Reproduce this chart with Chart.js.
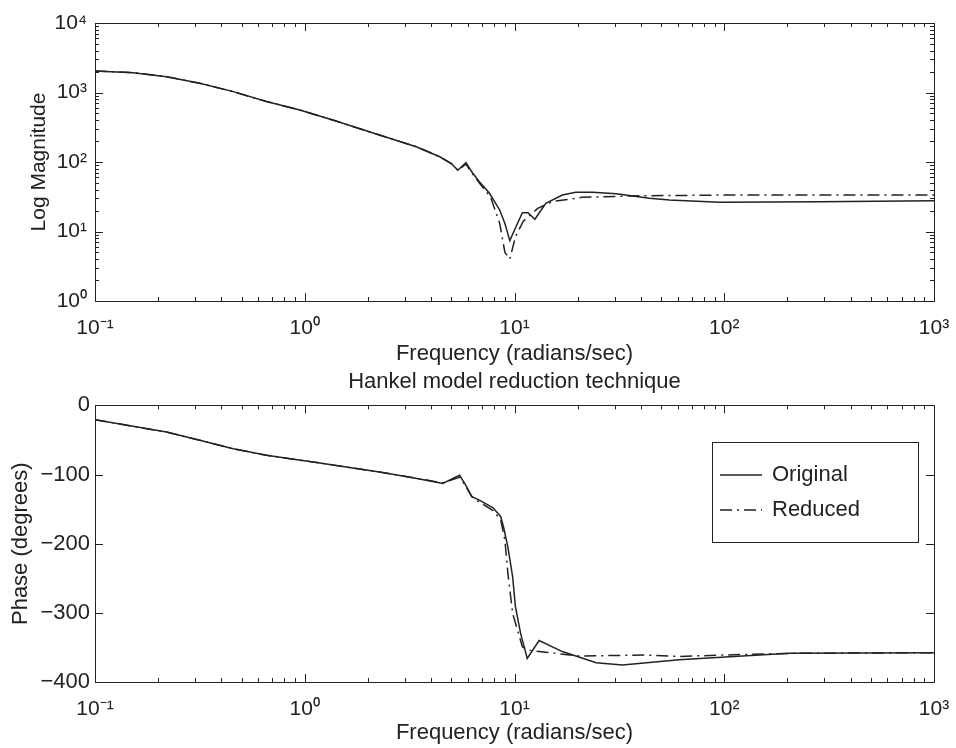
<!DOCTYPE html>
<html><head><meta charset="utf-8">
<script src="https://cdn.jsdelivr.net/npm/chart.js@4.4.0/dist/chart.umd.min.js"></script>
<style>
html,body{margin:0;padding:0;background:#fff;width:956px;height:748px;overflow:hidden;}
.box{position:absolute;left:0;width:956px;}
canvas{display:block;}
</style></head><body>
<div class="box" style="top:0;height:370px"><canvas id="c1" width="956" height="370"></canvas></div>
<div class="box" style="top:365px;height:383px"><canvas id="c2" width="956" height="383"></canvas></div>
<script>
// ---------- data ----------
const seriesNames = ['Original', 'Reduced'];

const magFreqOrig = [0.1, 0.152, 0.219, 0.316, 0.456, 0.657, 0.946, 1.36, 2.27, 3.4, 4.4, 5.0, 5.37, 5.87, 6.3, 6.8, 7.6, 8.5, 9.0, 9.5, 10.2, 10.9, 11.6, 12.5, 14.1, 16.9, 19.6, 23.6, 30.6, 44, 54.7, 94.6, 283, 1000];
const magOrig     = [2040, 1930, 1690, 1355, 1030, 740, 560, 402, 244, 166, 119, 95, 76, 98, 70, 52, 35.5, 20.4, 13, 7.4, 12, 18.6, 18.6, 15, 25.5, 33.5, 36.6, 36.6, 35, 30, 28.4, 26.3, 26.7, 27.7];

const magFreqRed  = [0.1, 0.152, 0.219, 0.316, 0.456, 0.657, 0.946, 1.36, 2.27, 3.4, 4.4, 5.0, 5.37, 5.87, 6.3, 6.8, 7.7, 8.5, 9.0, 9.5, 10.1, 11.0, 12.9, 15.2, 21, 36.5, 100, 1000];
const magRed      = [2040, 1930, 1690, 1355, 1030, 740, 560, 402, 244, 166, 119, 95, 76, 93, 68, 50, 31, 13.1, 5.0, 4.0, 8.4, 14, 21.5, 27, 31, 32.5, 33.5, 33.5];

const phFreqOrig  = [0.1, 0.152, 0.219, 0.316, 0.456, 0.657, 1.18, 2.27, 3.28, 4.55, 5.47, 5.8, 6.26, 6.8, 7.9, 8.6, 8.9, 9.3, 9.8, 10.1, 10.7, 11.5, 13.1, 16.9, 24.5, 32.7, 61, 204, 1000];
const phaseOrig   = [-20.7, -30.3, -38.5, -50.5, -62.6, -72.2, -83.3, -96.3, -104.5, -113, -101, -113, -132, -137, -148, -161, -178, -205, -248, -291, -330, -366, -340, -356, -372, -375.5, -368, -358.6, -357.6];

const phFreqRed   = [0.1, 0.152, 0.219, 0.316, 0.456, 0.657, 1.18, 2.27, 3.28, 4.55, 5.47, 5.8, 6.26, 6.8, 7.9, 8.6, 9.0, 9.3, 9.8, 10.9, 11.6, 14.1, 20.4, 42, 61, 100, 204, 1000];
const phaseRed    = [-20.7, -30.3, -38.5, -50.5, -62.6, -72.2, -83.3, -96.3, -104.5, -112, -104, -115, -132, -140, -152, -166, -195, -243, -301, -349, -354, -357, -362.5, -361, -363, -361, -358.6, -357.6];

const freqRange  = [0.1, 1000];
const magRange   = [1, 10000];
const phaseTicks = [-400, -300, -200, -100, 0];

const labels = {
  freq: 'Frequency (radians/sec)',
  mag: 'Log Magnitude',
  phase: 'Phase (degrees)',
  title: 'Hankel model reduction technique'
};

// ---------- styling ----------
const INK = '#222';
const FONT = '"Liberation Sans", Arial, Helvetica, sans-serif';
const DASHDOT = [12, 5, 2, 5];

const SUP = {'-':'\u207B','0':'\u2070','1':'\u00B9','2':'\u00B2','3':'\u00B3','4':'\u2074','5':'\u2075','6':'\u2076','7':'\u2077','8':'\u2078','9':'\u2079'};
function isPow10(v){ const l = Math.log10(v); return Math.abs(l - Math.round(l)) < 1e-9; }
function powLabel(v){ const e = String(Math.round(Math.log10(v))); return '10' + e.split('').map(c => SUP[c]).join(''); }
function logTicks(lo, hi){
  const a = [], e0 = Math.round(Math.log10(lo)), e1 = Math.round(Math.log10(hi));
  for (let e = e0; e < e1; e++) for (let m = 1; m <= 9; m++) a.push({value: m * Math.pow(10, e)});
  a.push({value: Math.pow(10, e1)});
  return a;
}
function pts(xs, ys){ return xs.map((x, i) => ({x: x, y: ys[i]})); }

const framePlugin = {
  id: 'frameTicks',
  afterDatasetsDraw(chart){
    const {ctx, chartArea: a} = chart;
    const sx = chart.scales.x, sy = chart.scales.y;
    ctx.save();
    ctx.strokeStyle = INK; ctx.lineWidth = 1; ctx.setLineDash([]);
    ctx.strokeRect(Math.round(a.left) + 0.5, Math.round(a.top) + 0.5, Math.round(a.right - a.left), Math.round(a.bottom - a.top));
    ctx.beginPath();
    sx.ticks.forEach(t => {
      const len = isPow10(t.value) ? 8 : 4;
      const p = Math.round(sx.getPixelForValue(t.value)) + 0.5;
      ctx.moveTo(p, a.bottom); ctx.lineTo(p, a.bottom - len);
      ctx.moveTo(p, a.top); ctx.lineTo(p, a.top + len);
    });
    sy.ticks.forEach(t => {
      const len = (sy.type === 'linear' || isPow10(t.value)) ? 8 : 4;
      const p = Math.round(sy.getPixelForValue(t.value)) + 0.5;
      ctx.moveTo(a.left, p); ctx.lineTo(a.left + len, p);
      ctx.moveTo(a.right, p); ctx.lineTo(a.right - len, p);
    });
    ctx.stroke();
    ctx.restore();
  }
};

const legendPlugin = {
  id: 'boxLegend',
  afterDatasetsDraw(chart){
    const {ctx, chartArea: a} = chart;
    const L = Math.round(a.right - 222), T = Math.round(a.top + 37), W = 206, H = 100;
    ctx.save();
    ctx.fillStyle = '#fff'; ctx.fillRect(L, T, W, H);
    ctx.strokeStyle = INK; ctx.lineWidth = 1; ctx.setLineDash([]);
    ctx.strokeRect(L + 0.5, T + 0.5, W, H);
    chart.data.datasets.forEach((ds, i) => {
      const cy = T + 33 + i * 35;
      ctx.setLineDash(ds.borderDash || []);
      ctx.lineWidth = ds.borderWidth; ctx.strokeStyle = ds.borderColor;
      ctx.beginPath(); ctx.moveTo(L + 8, cy); ctx.lineTo(L + 50, cy); ctx.stroke();
      ctx.setLineDash([]);
      ctx.fillStyle = INK; ctx.font = '22px ' + FONT; ctx.textBaseline = 'middle'; ctx.textAlign = 'left';
      ctx.fillText(ds.label, L + 60, cy);
    });
    ctx.restore();
  }
};

function lineDs(label, data, dashed){
  return {label: label, data: data, borderColor: INK, borderWidth: 1.5, borderDash: dashed ? DASHDOT : [],
          pointRadius: 0, tension: 0, fill: false};
}

function xScale(height, titlePad){
  return {
    type: 'logarithmic', min: freqRange[0], max: freqRange[1],
    afterBuildTicks: ax => { ax.ticks = logTicks(freqRange[0], freqRange[1]); },
    afterFit: ax => { ax.height = height; ax.paddingLeft = 0; ax.paddingRight = 0; },
    grid: {display: false, drawTicks: false}, border: {display: false},
    ticks: {autoSkip: false, maxRotation: 0, minRotation: 0, padding: 15, color: INK,
            font: {family: FONT, size: 21}, callback: v => isPow10(v) ? powLabel(v) : ''},
    title: {display: true, text: labels.freq, color: INK, font: {family: FONT, size: 22},
            padding: {top: 0, bottom: titlePad}}
  };
}

Chart.defaults.font.family = FONT;

new Chart(document.getElementById('c1'), {
  type: 'line',
  data: {datasets: [lineDs(seriesNames[0], pts(magFreqOrig, magOrig), false),
                    lineDs(seriesNames[1], pts(magFreqRed, magRed), true)]},
  options: {
    responsive: false, animation: false, devicePixelRatio: 1,
    layout: {padding: {top: 23, right: 22, left: 0, bottom: 0}},
    plugins: {legend: {display: false}, tooltip: {enabled: false}, title: {display: false}},
    scales: {
      x: xScale(69, 3),
      y: {
        type: 'logarithmic', min: magRange[0], max: magRange[1],
        afterBuildTicks: ax => { ax.ticks = logTicks(magRange[0], magRange[1]); },
        afterFit: ax => { ax.width = 95; ax.paddingTop = 0; ax.paddingBottom = 0; },
        grid: {display: false, drawTicks: false}, border: {display: false},
        ticks: {autoSkip: false, padding: 8, color: INK, font: {family: FONT, size: 21},
                callback: v => isPow10(v) ? powLabel(v) : ''},
        title: {display: true, text: labels.mag, color: INK, font: {family: FONT, size: 21},
                padding: {top: 27, bottom: 0}}
      }
    }
  },
  plugins: [framePlugin]
});

new Chart(document.getElementById('c2'), {
  type: 'line',
  data: {datasets: [lineDs(seriesNames[0], pts(phFreqOrig, phaseOrig), false),
                    lineDs(seriesNames[1], pts(phFreqRed, phaseRed), true)]},
  options: {
    responsive: false, animation: false, devicePixelRatio: 1,
    layout: {padding: {top: 0, right: 22, left: 0, bottom: 0}},
    plugins: {legend: {display: false}, tooltip: {enabled: false},
              title: {display: true, fullSize: false, text: labels.title, color: INK,
                      font: {family: FONT, size: 22, weight: 'normal'}, padding: {top: 4, bottom: 10}}},
    scales: {
      x: xScale(66, 2),
      y: {
        type: 'linear', min: phaseTicks[0], max: phaseTicks[phaseTicks.length - 1],
        afterBuildTicks: ax => { ax.ticks = phaseTicks.map(v => ({value: v})); },
        afterFit: ax => { ax.width = 95; ax.paddingTop = 0; ax.paddingBottom = 0; },
        grid: {display: false, drawTicks: false}, border: {display: false},
        ticks: {padding: 5, color: INK, font: {family: FONT, size: 22},
                callback: v => (v < 0 ? '\u2212' + Math.abs(v) : String(v))},
        title: {display: true, text: labels.phase, color: INK, font: {family: FONT, size: 22},
                padding: {top: 8, bottom: 0}}
      }
    }
  },
  plugins: [framePlugin, legendPlugin]
});
</script>
</body></html>
